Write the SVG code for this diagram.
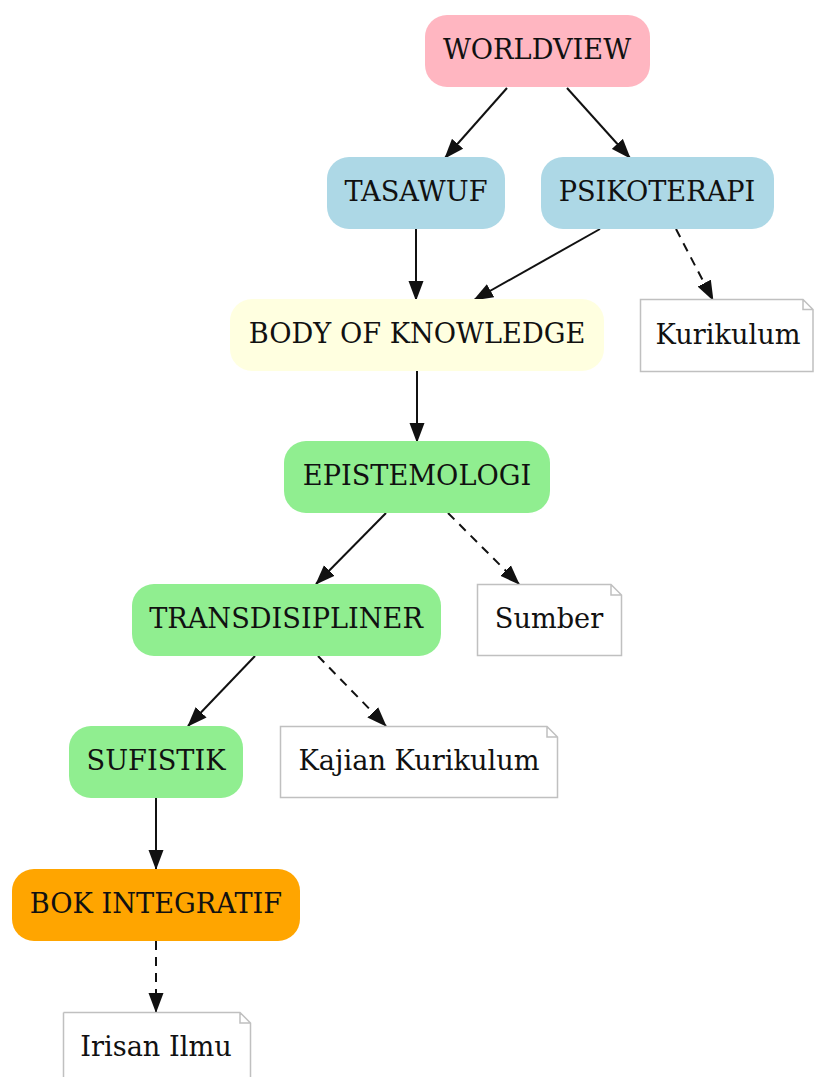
<svg xmlns="http://www.w3.org/2000/svg" width="814" height="1077" viewBox="0 0 814 1077">
<style>
text{font-family:"DejaVu Serif","Liberation Serif",serif;font-size:27.2px;fill:#111;text-anchor:middle;dominant-baseline:central}
.n rect{stroke:none}
.note path{fill:#fff;stroke:#c0c0c0;stroke-width:1.5}
.e{stroke:#111;stroke-width:2;fill:none;marker-end:url(#a)}
.d{stroke-dasharray:9,7}
</style>
<defs>
<marker id="a" markerWidth="20" markerHeight="16" refX="19" refY="8" orient="auto" markerUnits="userSpaceOnUse">
<path d="M0,0.5 L20,8 L0,15.5 Z" fill="#111"/>
</marker>
</defs>
<rect width="814" height="1077" fill="#fff"/>
<g id="connectors">
<path class="e" d="M507,88 L445,158"/>
<path class="e" d="M567,88 L630,158"/>
<path class="e" d="M416,229 L416,300"/>
<path class="e" d="M600,229 L474,300"/>
<path class="e d" d="M676,229 L713,300"/>
<path class="e" d="M417,371 L417,442"/>
<path class="e" d="M386,513 L316,584"/>
<path class="e d" d="M448,513 L519,584"/>
<path class="e" d="M255,656 L188,726"/>
<path class="e d" d="M318,656 L386,726"/>
<path class="e" d="M156,798 L156,869"/>
<path class="e d" d="M156,941 L156,1012"/>
</g>
<g id="worldview" class="n"><rect x="425" y="15" width="225" height="72" rx="22" fill="#ffb6c1"/><text x="537" y="49">WORLDVIEW</text></g>
<g id="tasawuf" class="n"><rect x="327" y="157" width="178" height="72" rx="22" fill="#add8e6"/><text x="416" y="191">TASAWUF</text></g>
<g id="psikoterapi" class="n"><rect x="541" y="157" width="233" height="72" rx="22" fill="#add8e6"/><text x="657" y="191">PSIKOTERAPI</text></g>
<g id="bok" class="n"><rect x="230" y="299" width="374" height="72" rx="22" fill="#ffffe0"/><text x="417" y="333">BODY OF KNOWLEDGE</text></g>
<g id="kurikulum" class="note"><path d="M640.5,299.5 H803 L813,309.5 V371.5 H640.5 Z M803,299.5 V309.5 H813"/><text x="728" y="334">Kurikulum</text></g>
<g id="epistemologi" class="n"><rect x="284" y="441" width="266" height="72" rx="22" fill="#90ee90"/><text x="417" y="475">EPISTEMOLOGI</text></g>
<g id="sumber" class="note"><path d="M477.5,584.5 H611 L621.5,595 V655.5 H477.5 Z M611,584.5 V595 H621.5"/><text x="549" y="618">Sumber</text></g>
<g id="transdisipliner" class="n"><rect x="132" y="584" width="309" height="72" rx="22" fill="#90ee90"/><text x="286" y="618">TRANSDISIPLINER</text></g>
<g id="kajian" class="note"><path d="M280.5,726.5 H547 L557.5,737 V797.5 H280.5 Z M547,726.5 V737 H557.5"/><text x="419" y="760">Kajian Kurikulum</text></g>
<g id="sufistik" class="n"><rect x="69" y="726" width="174" height="72" rx="22" fill="#90ee90"/><text x="156" y="760">SUFISTIK</text></g>
<g id="bokintegratif" class="n"><rect x="12" y="869" width="288" height="72" rx="22" fill="#ffa500"/><text x="156" y="903">BOK INTEGRATIF</text></g>
<g id="irisan" class="note"><path d="M63.5,1012.5 H240 L250.5,1023 V1085 M63.5,1012.5 V1085 M240,1012.5 V1023 H250.5"/><text x="156" y="1046">Irisan Ilmu</text></g>
</svg>
